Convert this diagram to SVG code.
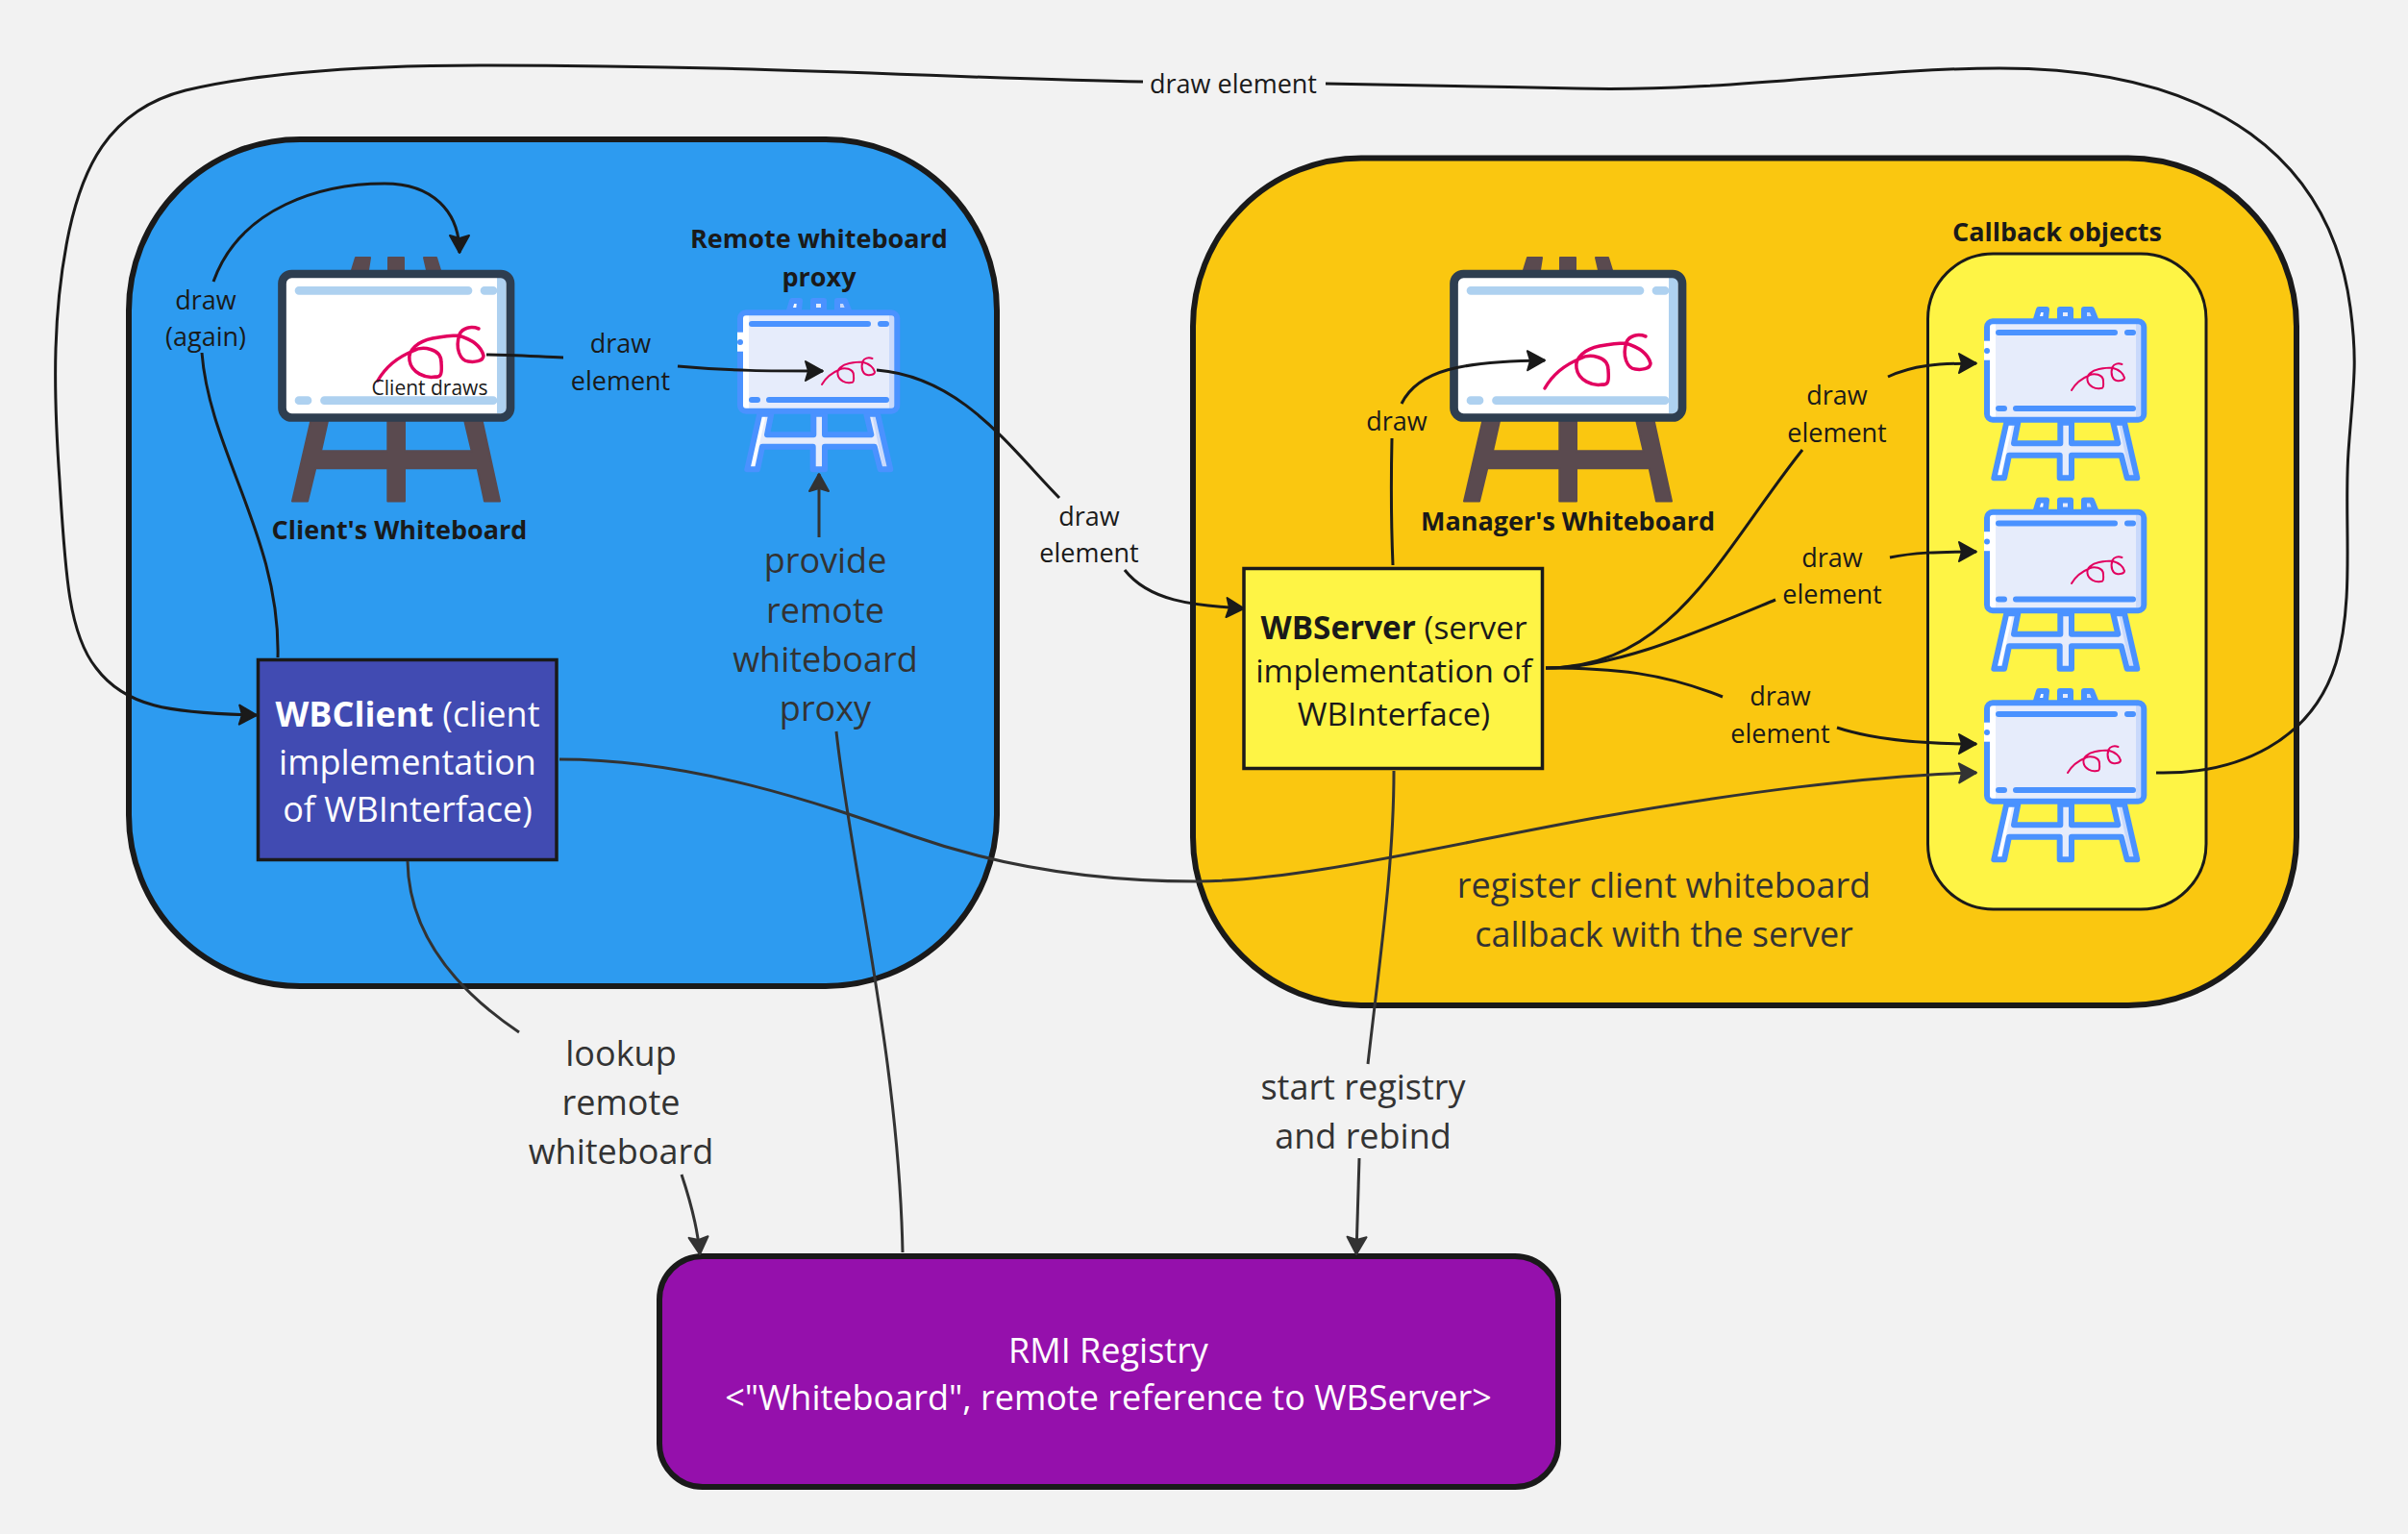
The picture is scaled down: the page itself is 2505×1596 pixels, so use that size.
<svg xmlns="http://www.w3.org/2000/svg" xmlns:xlink="http://www.w3.org/1999/xlink" width="2505" height="1596" viewBox="0 0 2505 1596">
<style>
text{font-family:"Open Sans","Noto Sans","Liberation Sans",sans-serif;text-anchor:middle;fill:#1a1a1a}
.lbl{font-size:27px}
.cap{font-size:27px;font-weight:700}
.big{font-size:36px;fill:#333}
.box{font-size:33.300px}
.wbc{font-size:36px;fill:#fff}
.rmi{font-size:36px;fill:#fff}
.b{font-weight:700}
.cn{fill:none;stroke:#1a1a1a;stroke-width:3}
.cg{fill:none;stroke:#333;stroke-width:3}
.a{marker-end:url(#ah)}
.ag{marker-end:url(#ahg)}
.sq{fill:none;stroke:#e2005f;stroke-width:4;stroke-linecap:round}
.sqs{fill:none;stroke:#e2005f;stroke-width:3.500;stroke-linecap:round}
.dbar{fill:none;stroke:#aed1f0;stroke-width:8.7;stroke-linecap:round}
.bbar{fill:none;stroke:#4a92ff;stroke-width:6;stroke-linecap:round}
.bst{stroke:#4a92ff;stroke-width:6;stroke-linejoin:round}
.leg{fill:#5a4a4f;stroke:#5a4a4f;stroke-width:2;stroke-linejoin:round}
</style>
<defs>
<marker id="ah" markerUnits="userSpaceOnUse" markerWidth="30" markerHeight="30" refX="20" refY="13" orient="auto"><path d="M2,3 L20,13 L2,23 L5,13z" fill="#1a1a1a" stroke="#1a1a1a" stroke-width="2" stroke-linejoin="round"/></marker>
<marker id="ahg" markerUnits="userSpaceOnUse" markerWidth="30" markerHeight="30" refX="20" refY="13" orient="auto"><path d="M2,3 L20,13 L2,23 L5,13z" fill="#333" stroke="#333" stroke-width="2" stroke-linejoin="round"/></marker>
<path id="squig" d="M0,0 C8,-14 22,-25 37,-31 C46,-36 66,-34 66,-19 C67,-8 66,-3 60,-4 C50,-2 35,-8 33,-21 C31,-32 42,-41 57,-44 C68,-46 76,-47 84,-47 C94,-44 107,-38 110,-26 C110,-20 100,-19 94,-20 C86,-21 80,-33 85,-48 C88,-55 97,-57 105,-54"/>
<g id="easel-dark">
<path class="leg" d="M77,14 L81,1 H96 L94,14z M115,14 V1 H131 V14z M152,1 H165 L169,14 H155z"/>
<path class="leg" d="M34.3,171 L15,254.5 H31 L39.3,220.3 H114.3 V254.5 H132 V220.3 H207.7 L215,254.5 H231 L212.7,171 H194.3 L201.7,202.3 H132 V171 H114.3 V202.3 H45 L52,171z"/>
<rect x="4.5" y="18" width="237.5" height="149.5" rx="10" fill="#fff"/>
<rect x="228" y="22" width="9.5" height="141" fill="#aed1f0"/>
<path class="dbar" d="M22,35.3 H198 M215,35.3 H224 M22,149.7 H31 M48.5,149.7 H224"/>
<rect x="4.5" y="18" width="237.5" height="149.5" rx="10" fill="none" stroke="#2e3e50" stroke-width="8.7"/>
</g>
<g id="easel-blue">
<path class="bst" fill="#fff" d="M54,13 L57,3 H65 L64,13z"/>
<path class="bst" fill="#e6ecfb" d="M79,13 V3 H90 V13z"/>
<path class="bst" fill="#c9d9fb" d="M104,13 V3 H112 L116,13z"/>
<path fill="#e6ecfb" d="M23.3,120.7 L10.3,178.3 H21 L26,154.7 H78.7 V178.3 H91 V154.7 H142.7 L148.7,178.3 H159.3 L146,120.7 H134.3 L139.3,142.3 H91 V120.7 H79.3 V142.3 H31 L35.3,120.7z"/>
<path fill="#fff" d="M23.3,120.7 L10.3,178.3 H17 L30,120.7z"/>
<path fill="#c9d9fb" d="M146,120.7 L159.3,178.3 H152 L140,120.7z"/>
<path class="bst" fill="none" d="M23.3,120.7 L10.3,178.3 H21 L26,154.7 H78.7 V178.3 H91 V154.7 H142.7 L148.7,178.3 H159.3 L146,120.7 H134.3 L139.3,142.3 H91 V120.7 H79.3 V142.3 H31 L35.3,120.7z"/>
<rect x="3" y="15.3" width="163.3" height="102.4" rx="6" fill="#e6ecfb"/>
<rect x="6" y="18" width="6" height="97" fill="#fff"/>
<rect x="158" y="18" width="6" height="97" fill="#c9d9fb"/>
<rect x="3" y="15.3" width="163.3" height="102.4" rx="6" fill="none" stroke="#4a92ff" stroke-width="6"/>
<rect x="0" y="35.7" width="6" height="20" fill="#fff"/>
<circle cx="3" cy="46" r="3" fill="#4a92ff"/>
<path class="bbar" d="M15,27 H136 M149,27 H155 M15,106 H21 M33,106 H155"/>
</g>
</defs>
<rect width="2505" height="1596" fill="#f2f2f2"/>

<g id="client-area"><rect x="134" y="145" width="903" height="881" rx="178" fill="#2d9bf0" stroke="#1a1a1a" stroke-width="6"/></g>
<g id="manager-area"><rect x="1241" y="164.500" width="1148" height="881.500" rx="175" fill="#fac710" stroke="#1a1a1a" stroke-width="6"/></g>
<g id="callback-area"><rect x="2005.5" y="264" width="289.500" height="682" rx="68" fill="#fef445" stroke="#1a1a1a" stroke-width="3"/>
<text class="cap" x="2140" y="251">Callback objects</text></g>

<g id="client-whiteboard"><use href="#easel-dark" x="289" y="267"/><use href="#squig" x="393" y="396" class="sqs"/>
<text class="cap" x="415.500" y="561">Client's Whiteboard</text></g>
<g id="proxy-whiteboard"><use href="#easel-blue" x="767" y="310"/><use href="#squig" transform="translate(855,400) scale(.5)" class="sq"/>
<text class="cap" x="852" y="258">Remote whiteboard</text><text class="cap" x="852" y="298">proxy</text></g>
<g id="manager-whiteboard"><use href="#easel-dark" x="1508" y="267"/><use href="#squig" x="1607" y="404" class="sqs"/>
<text class="cap" x="1631" y="552">Manager's Whiteboard</text></g>
<g id="callback-1"><use href="#easel-blue" x="2064" y="319"/><use href="#squig" transform="translate(2155,406) scale(.5)" class="sq"/></g>
<g id="callback-2"><use href="#easel-blue" x="2064" y="517.500"/><use href="#squig" transform="translate(2155,607) scale(.5)" class="sq"/></g>
<g id="callback-3"><use href="#easel-blue" x="2064" y="716"/><use href="#squig" transform="translate(2151,804) scale(.5)" class="sq"/></g>

<g id="wbclient"><rect x="268.500" y="686.500" width="310.500" height="208" fill="#414bb2" stroke="#1a1a1a" stroke-width="3.500"/>
<text class="wbc" x="424" y="755.500"><tspan class="b">WBClient</tspan> (client</text><text class="wbc" x="424" y="805.500">implementation</text><text class="wbc" x="424" y="855">of WBInterface)</text></g>
<g id="wbserver"><rect x="1294" y="591.500" width="310.500" height="208" fill="#fef445" stroke="#1a1a1a" stroke-width="3.500"/>
<text class="box" x="1450" y="664.500"><tspan class="b">WBServer</tspan> (server</text><text class="box" x="1450" y="709.500">implementation of</text><text class="box" x="1450" y="754.500">WBInterface)</text></g>
<g id="rmi-registry"><rect x="686" y="1307" width="935" height="240" rx="45" fill="#9510ac" stroke="#1a1a1a" stroke-width="6"/>
<text class="rmi" x="1153" y="1417.500">RMI Registry</text><text class="rmi" x="1153" y="1466.500">&lt;"Whiteboard", remote reference to WBServer&gt;</text></g>

<g id="connectors">
<path class="cn" d="M2243,804 C2330,806 2405,770 2430,690 C2450,625 2438,540 2443,470 C2448,400 2453,380 2445,320 C2425,170 2310,71 2080,71 C1940,71 1800,96 1640,92 C1550,90 1450,88 1379,87"/>
<path class="cn a" d="M1189,85 C1000,82 800,68 499,68 C350,68 250,80 193,94 C110,115 85,180 72,240 C55,320 55,400 62,500 C68,600 72,660 100,695 C130,735 175,742 267,744"/>
<path class="cn" d="M289,684 C292,560 218,470 210,367"/>
<path class="cn a" d="M222,293 C250,215 335,191 400,191 C450,191 478,220 478,263"/>
<path class="cn" d="M506,369 C530,369 560,371 586,372"/>
<path class="cn a" d="M705,381 C760,386 800,386 856,386"/>
<path class="cn" d="M912,385 C1000,392 1050,465 1102,518"/>
<path class="cn a" d="M1170,593 C1195,625 1240,630 1294,633"/>
<path class="cn" d="M1449,588 C1447,540 1447,500 1448,456"/>
<path class="cn a" d="M1458,420 C1475,385 1520,376 1607,375"/>
<path class="cn" d="M1608,695 C1740,695 1790,575 1875,468"/>
<path class="cn" d="M1608,695 C1680,695 1760,660 1847,624"/>
<path class="cn" d="M1608,695 C1680,695 1730,700 1792,725"/>
<path class="cn a" d="M1964,392 C1990,380 2015,378 2056,378"/>
<path class="cn a" d="M1966,580 C1990,575 2015,574 2056,574"/>
<path class="cn a" d="M1911,757 C1950,770 2000,774 2056,774"/>
<path class="cg ag" d="M582,790 C720,790 850,835 950,870 C1050,905 1150,917 1245,917 C1350,917 1500,880 1659,851 C1800,826 1950,806 2056,804"/>
<path class="cg" d="M424,896 C425,960 460,1020 540,1074"/>
<path class="cg ag" d="M709,1222 C720,1255 726,1280 728,1305"/>
<path class="cg" d="M870,761 C885,900 935,1100 939,1303"/>
<path class="cg ag" d="M852,559 V493"/>
<path class="cg" d="M1450,802 C1450,900 1435,1000 1423,1107"/>
<path class="cg ag" d="M1414,1205 L1411,1305"/>
<text class="lbl" x="1283" y="97">draw element</text>
<text class="lbl" x="214" y="322">draw</text><text class="lbl" x="214" y="360">(again)</text>
<text class="lbl" x="645.500" y="367">draw</text><text class="lbl" x="645.500" y="406">element</text>
<text class="lbl" x="447" y="411" style="font-size:21px">Client draws</text>
<text class="lbl" x="1133" y="547">draw</text><text class="lbl" x="1133" y="585">element</text>
<text class="lbl" x="1453" y="448">draw</text>
<text class="lbl" x="1911" y="421">draw</text><text class="lbl" x="1911" y="460">element</text>
<text class="lbl" x="1906" y="590">draw</text><text class="lbl" x="1906" y="628">element</text>
<text class="lbl" x="1852" y="734">draw</text><text class="lbl" x="1852" y="773">element</text>
<text class="big" x="858.500" y="596">provide</text><text class="big" x="858.500" y="648">remote</text><text class="big" x="858.500" y="699">whiteboard</text><text class="big" x="858.500" y="750">proxy</text>
<text class="big" x="646" y="1108.500">lookup</text><text class="big" x="646" y="1160">remote</text><text class="big" x="646" y="1211">whiteboard</text>
<text class="big" x="1731" y="934">register client whiteboard</text><text class="big" x="1731" y="985">callback with the server</text>
<text class="big" x="1418" y="1144">start registry</text><text class="big" x="1418" y="1195">and rebind</text>
</g>
</svg>
